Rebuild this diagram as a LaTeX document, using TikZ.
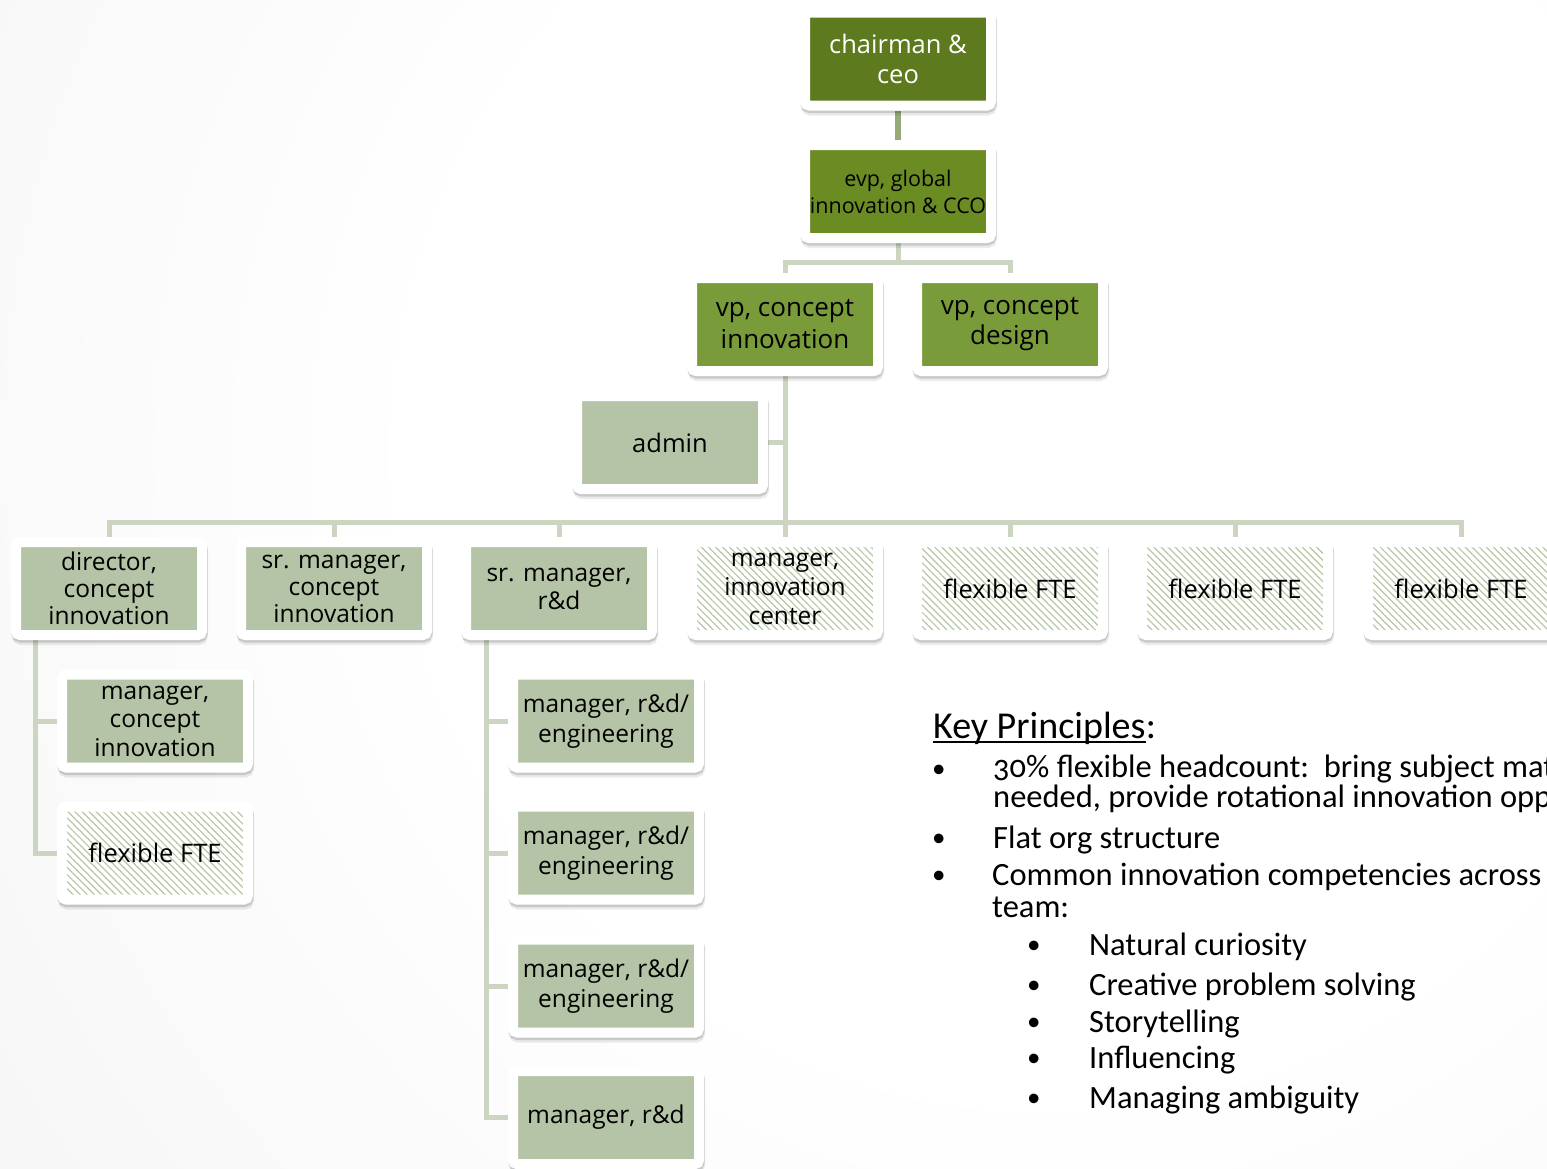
\documentclass[tikz,border=0pt]{standalone}
\usepackage{fontspec}
\setmainfont{Open Sans}
\newfontfamily\kpfont[Numbers=OldStyle]{Carlito}
\usetikzlibrary{patterns.meta}
\definecolor{ceoG}{HTML}{5E7A1E}
\definecolor{evpG}{HTML}{6B8B23}
\definecolor{vpG}{HTML}{7A9B3A}
\definecolor{sage}{HTML}{B5C4A6}
\definecolor{connL}{HTML}{CCD4C2}
\definecolor{connD}{HTML}{96AA78}
\definecolor{hatchC}{HTML}{B6C7A3}
\pgfdeclarelayer{bglayer}
\pgfdeclarelayer{connlayer}
\pgfsetlayers{bglayer,connlayer,main}
\pgfdeclareradialshading{bgshade}{\pgfpoint{0bp}{0bp}}{color(0bp)=(white); color(12bp)=(white); color(50bp)=(black!10)}
\tikzset{
  orgbox/.style={minimum width=186pt, minimum height=93pt, inner sep=0pt,
    draw=white, line width=10pt, rounded corners=4pt, align=center,
    font=\fontsize{24.5}{27}\selectfont,
    preaction={draw=black, draw opacity=0.08, line width=10pt, transform canvas={shift={(1pt,-5pt)}}},
    preaction={draw=black, draw opacity=0.14, line width=10pt, transform canvas={shift={(0.5pt,-2.5pt)}}}},
  ceobox/.style={orgbox, fill=ceoG, text=white, font=\fontsize{25.5}{30}\selectfont},
  evpbox/.style={orgbox, fill=evpG, font=\fontsize{21.5}{27}\selectfont},
  vpbox/.style={orgbox, fill=vpG, font=\fontsize{26}{32}\selectfont},
  sagebox/.style={orgbox, fill=sage},
  flexbox/.style={orgbox, preaction={fill=white},
    pattern={Lines[angle=-45,distance=5pt,line width=1.2pt]}, pattern color=hatchC},
  conn/.style={draw=connL, line width=5pt},
  conndark/.style={draw=connD, line width=6pt},
  kp/.style={anchor=base west, inner sep=0pt, font=\kpfont\fontsize{32.5}{36}\selectfont},
  kpb/.style={anchor=base west, inner sep=0pt, font=\kpfont\fontsize{27}{30}\selectfont},
}
\begin{document}
\begin{tikzpicture}[x=1pt,y=-1pt]
\useasboundingbox (0,0) rectangle (1547,1168);
\clip (0,0) rectangle (1547,1168);
\begin{pgfonlayer}{bglayer}
  \fill[black!10] (0,0) rectangle (1547,1168);
  \shade[shading=bgshade] (1050,450) circle (1300pt);
\end{pgfonlayer}

% boxes
\node[ceobox] (ceo) at (898,59) {chairman \&\\ceo};
\node[evpbox] (evp) at (898,191.5) {evp, global\\innovation \& CCO};
\node[vpbox] (vpci) at (785,324.5) {vp, concept\\innovation};
\node[vpbox, font=\fontsize{26}{30}\selectfont] (vpcd) at (1010,324.5) {vp, concept\\design};
\node[sagebox, font=\fontsize{25.5}{30}\selectfont] (admin) at (670,442.5) {admin};

\node[sagebox] (dci) at (109,588.5) {director,\\concept\\innovation};
\node[sagebox] (smci) at (334,588.5) {sr. manager,\\concept\\innovation};
\node[sagebox, font=\fontsize{24.5}{28}\selectfont] (smrd) at (559,588.5) {sr. manager,\\r\&d};
\node[flexbox, font=\fontsize{24.5}{29}\selectfont] (mic) at (785,588.5) {manager,\\innovation\\center};
\node[flexbox, font=\fontsize{25.5}{29}\selectfont] (fa) at (1010,588.5) {flexible FTE};
\node[flexbox, font=\fontsize{25.5}{29}\selectfont] (fb) at (1235,588.5) {flexible FTE};
\node[flexbox, font=\fontsize{25.5}{29}\selectfont] (fc) at (1461,588.5) {flexible FTE};

\node[sagebox, font=\fontsize{24.5}{28.5}\selectfont] (mci) at (155,721) {manager,\\concept\\innovation};
\node[flexbox, font=\fontsize{25.5}{29}\selectfont] (fl) at (155,853) {flexible FTE};

\node[sagebox, font=\fontsize{24.5}{29.5}\selectfont] (me1) at (606,721) {manager, r\&d/\\engineering};
\node[sagebox, font=\fontsize{24.5}{29.5}\selectfont] (me2) at (606,853) {manager, r\&d/\\engineering};
\node[sagebox, font=\fontsize{24.5}{29.5}\selectfont] (me3) at (606,986) {manager, r\&d/\\engineering};
\node[sagebox] (mrd) at (606,1117.5) {manager, r\&d};

% connectors
\coordinate (busA) at (898,262);
\coordinate (busB) at (785,522);
\coordinate (trL) at (35,600);
\coordinate (trR) at (486,600);
\begin{pgfonlayer}{connlayer}
  \draw[conndark] (ceo) -- (evp);
  \draw[conn] (evp) -- (busA);
  \draw[conn] (busA) -| (vpci.north);
  \draw[conn] (busA) -| (vpcd.north);
  \draw[conn] (vpci) -- (busB);
  \draw[conn] (admin.east) -- (admin.east -| vpci.center);
  \foreach \n in {dci,smci,smrd,mic,fa,fb,fc} {
    \draw[conn] (busB) -| (\n.north);
  }
  \draw[conn] (trL) |- (mci.west);
  \draw[conn] (trL) |- (fl.west);
  \foreach \n in {me1,me2,me3,mrd} {
    \draw[conn] (trR) |- (\n.west);
  }
\end{pgfonlayer}

% key principles
\node[kp, font=\kpfont\fontsize{38}{42}\selectfont] (kph) at (933,738) {Key Principles};
\node[kp, font=\kpfont\fontsize{38}{42}\selectfont] (kpc) at (kph.base east) {:};
\draw[line width=1.8pt] ([yshift=-4pt]kph.base west) -- ([yshift=-4pt]kph.base east);
\node[kpb] (b1) at (932,777) {•};
\node[kp, font=\kpfont\fontsize{32.5}{28}\selectfont, align=left] (t1) at (993,807) {30\% flexible headcount:\ \ bring subject mat\\needed, provide rotational innovation opp};
\node[kpb] (b2) at (932,846) {•};
\node[kp] (t2) at (993,848) {Flat org structure};
\node[kpb] (b3) at (932,883) {•};
\node[kp, font=\kpfont\fontsize{32.5}{32}\selectfont, align=left] (t3) at (992,917) {Common innovation competencies across\\team:};
\node[kpb] (s1) at (1027,953) {•};
\node[kp] (u1) at (1089,955) {Natural curiosity};
\node[kpb] (s2) at (1027,993) {•};
\node[kp] (u2) at (1089,995) {Creative problem solving};
\node[kpb] (s3) at (1027,1030) {•};
\node[kp] (u3) at (1089,1032) {Storytelling};
\node[kpb] (s4) at (1027,1066) {•};
\node[kp] (u4) at (1089,1068) {Influencing};
\node[kpb] (s5) at (1027,1106) {•};
\node[kp] (u5) at (1089,1108) {Managing ambiguity};
\end{tikzpicture}
\end{document}
